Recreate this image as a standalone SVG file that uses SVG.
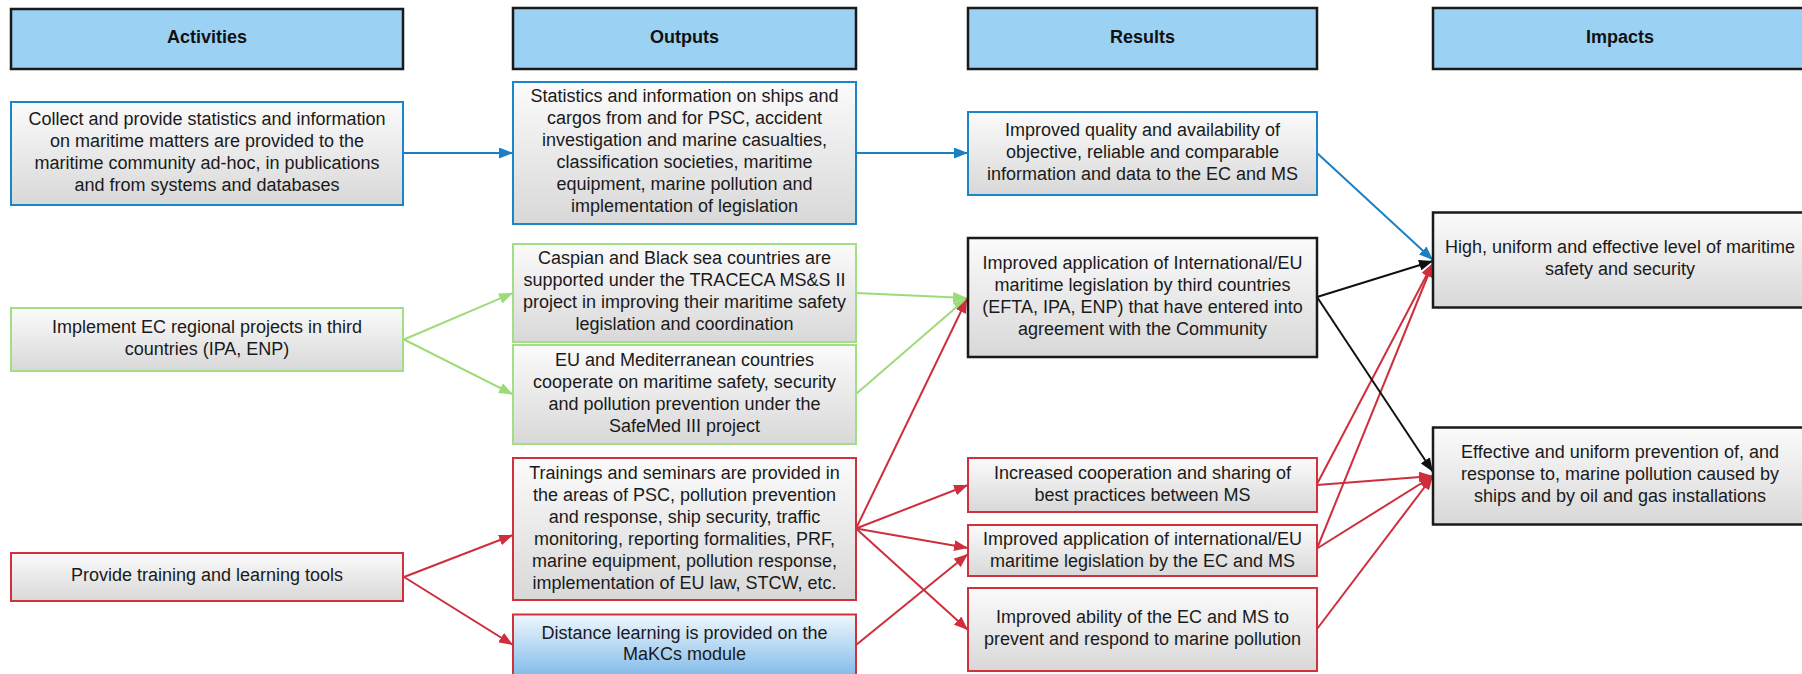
<svg xmlns="http://www.w3.org/2000/svg" width="1802" height="674" viewBox="0 0 1802 674">
<defs>
<linearGradient id="gray" x1="0" y1="0" x2="0" y2="1">
<stop offset="0" stop-color="#fbfbfb"/>
<stop offset="1" stop-color="#d8d8d8"/>
</linearGradient>
<linearGradient id="bluefill" x1="0" y1="0" x2="0" y2="1">
<stop offset="0" stop-color="#f0f7fd"/>
<stop offset="1" stop-color="#6aaee5"/>
</linearGradient>
<marker id="ab" viewBox="0 0 14 11" refX="14" refY="5.5" markerWidth="14" markerHeight="11" markerUnits="userSpaceOnUse" orient="auto"><path d="M0,0 L14,5.5 L0,11 z" fill="#1b7fc3"/></marker>
<marker id="ag" viewBox="0 0 14 11" refX="14" refY="5.5" markerWidth="14" markerHeight="11" markerUnits="userSpaceOnUse" orient="auto"><path d="M0,0 L14,5.5 L0,11 z" fill="#9ddb78"/></marker>
<marker id="ar" viewBox="0 0 14 11" refX="14" refY="5.5" markerWidth="14" markerHeight="11" markerUnits="userSpaceOnUse" orient="auto"><path d="M0,0 L14,5.5 L0,11 z" fill="#cf2e3c"/></marker>
<marker id="ak" viewBox="0 0 14 11" refX="14" refY="5.5" markerWidth="14" markerHeight="11" markerUnits="userSpaceOnUse" orient="auto"><path d="M0,0 L14,5.5 L0,11 z" fill="#111111"/></marker>
</defs>
<style>
.hdr{fill:#9bd2f3;stroke:#1a1a1a;stroke-width:2.5}
.hdt{font-family:"Liberation Sans",Arial,sans-serif;font-size:18px;font-weight:bold;fill:#111;text-anchor:middle}
.t{font-family:"Liberation Sans",Arial,sans-serif;font-size:18px;fill:#1a1a1a;text-anchor:middle}
.nb{fill:url(#gray);stroke:#1b85c9;stroke-width:2}
.ng{fill:url(#gray);stroke:#a3dd86;stroke-width:2}
.nr{fill:url(#gray);stroke:#d0313d;stroke-width:2}
.nk{fill:url(#gray);stroke:#1a1a1a;stroke-width:2.5}
.cb{stroke:#1b7fc3;stroke-width:2;fill:none;marker-end:url(#ab)}
.cg{stroke:#9ddb78;stroke-width:2;fill:none;marker-end:url(#ag)}
.cr{stroke:#cf2e3c;stroke-width:2;fill:none;marker-end:url(#ar)}
.ck{stroke:#111111;stroke-width:2;fill:none;marker-end:url(#ak)}
</style>
<rect width="1802" height="674" fill="#ffffff"/>

<g id="hdr-activities"><rect class="hdr" x="11" y="9" width="392" height="60"/><text class="hdt" x="207" y="43">Activities</text></g>
<g id="hdr-outputs"><rect class="hdr" x="513" y="8" width="343" height="61"/><text class="hdt" x="684.5" y="43">Outputs</text></g>
<g id="hdr-results"><rect class="hdr" x="968" y="8" width="349" height="61"/><text class="hdt" x="1142.5" y="43">Results</text></g>
<g id="hdr-impacts"><rect class="hdr" x="1433" y="8" width="374" height="61"/><text class="hdt" x="1620" y="43">Impacts</text></g>

<g id="connectors">
<line class="cb" x1="404" y1="153" x2="513" y2="153"/>
<line class="cb" x1="856" y1="153" x2="968" y2="153"/>
<line class="cb" x1="1317" y1="153" x2="1433" y2="260"/>
<line class="cg" x1="404" y1="339.5" x2="513" y2="293"/>
<line class="cg" x1="404" y1="339.5" x2="513" y2="394.5"/>
<line class="cg" x1="856" y1="293" x2="967" y2="298"/>
<line class="cg" x1="856" y1="394" x2="967" y2="298"/>
<line class="cr" x1="404" y1="577" x2="513" y2="535"/>
<line class="cr" x1="404" y1="577" x2="513" y2="645"/>
<line class="cr" x1="856" y1="528.5" x2="967" y2="299"/>
<line class="cr" x1="856" y1="528.5" x2="968" y2="485"/>
<line class="cr" x1="856" y1="528.5" x2="968" y2="548"/>
<line class="cr" x1="856" y1="528.5" x2="968" y2="630"/>
<line class="cr" x1="856" y1="645" x2="968" y2="554"/>
<line class="cr" x1="1317" y1="484" x2="1433" y2="263"/>
<line class="cr" x1="1317" y1="548.5" x2="1433" y2="263"/>
<line class="cr" x1="1317" y1="485" x2="1433" y2="476"/>
<line class="cr" x1="1317" y1="548.5" x2="1433" y2="476"/>
<line class="cr" x1="1317" y1="629" x2="1433" y2="476"/>
<line class="ck" x1="1317" y1="297" x2="1433" y2="261"/>
<line class="ck" x1="1317" y1="297" x2="1433" y2="472"/>
</g>

<g id="a1"><rect class="nb" x="11" y="102" width="392" height="103"/>
<text class="t" x="207" y="124.5">Collect and provide statistics and information</text>
<text class="t" x="207" y="146.5">on maritime matters are provided to the</text>
<text class="t" x="207" y="168.5">maritime community ad-hoc, in publications</text>
<text class="t" x="207" y="190.5">and from systems and databases</text></g>

<g id="a2"><rect class="ng" x="11" y="308" width="392" height="63"/>
<text class="t" x="207" y="332.5">Implement EC regional projects in third</text>
<text class="t" x="207" y="354.5">countries (IPA, ENP)</text></g>

<g id="a3"><rect class="nr" x="11" y="553" width="392" height="48"/>
<text class="t" x="207" y="581">Provide training and learning tools</text></g>

<g id="o1"><rect class="nb" x="513" y="82" width="343" height="142"/>
<text class="t" x="684.5" y="102">Statistics and information on ships and</text>
<text class="t" x="684.5" y="124">cargos from and for PSC, accident</text>
<text class="t" x="684.5" y="146">investigation and marine casualties,</text>
<text class="t" x="684.5" y="168">classification societies, maritime</text>
<text class="t" x="684.5" y="190">equipment, marine pollution and</text>
<text class="t" x="684.5" y="212">implementation of legislation</text></g>

<g id="o2"><rect class="ng" x="513" y="244" width="343" height="98"/>
<text class="t" x="684.5" y="264">Caspian and Black sea countries are</text>
<text class="t" x="684.5" y="286">supported under the TRACECA MS&amp;S II</text>
<text class="t" x="684.5" y="308">project in improving their maritime safety</text>
<text class="t" x="684.5" y="330">legislation and coordination</text></g>

<g id="o3"><rect class="ng" x="513" y="345" width="343" height="99"/>
<text class="t" x="684.5" y="365.5">EU and Mediterranean countries</text>
<text class="t" x="684.5" y="387.5">cooperate on maritime safety, security</text>
<text class="t" x="684.5" y="409.5">and pollution prevention under the</text>
<text class="t" x="684.5" y="431.5">SafeMed III project</text></g>

<g id="o4"><rect class="nr" x="513" y="458" width="343" height="142"/>
<text class="t" x="684.5" y="478.5">Trainings and seminars are provided in</text>
<text class="t" x="684.5" y="500.5">the areas of PSC, pollution prevention</text>
<text class="t" x="684.5" y="522.5">and response, ship security, traffic</text>
<text class="t" x="684.5" y="544.5">monitoring, reporting formalities, PRF,</text>
<text class="t" x="684.5" y="566.5">marine equipment, pollution response,</text>
<text class="t" x="684.5" y="588.5">implementation of EU law, STCW, etc.</text></g>

<g id="o5"><rect x="513" y="614.5" width="343" height="75" fill="url(#bluefill)" stroke="#d0313d" stroke-width="2"/>
<text class="t" x="684.5" y="638.5">Distance learning is provided on the</text>
<text class="t" x="684.5" y="660">MaKCs module</text></g>

<g id="r1"><rect class="nb" x="968" y="112" width="349" height="83"/>
<text class="t" x="1142.5" y="136">Improved quality and availability of</text>
<text class="t" x="1142.5" y="158">objective, reliable and comparable</text>
<text class="t" x="1142.5" y="180">information and data to the EC and MS</text></g>

<g id="r2"><rect class="nk" x="968" y="238" width="349" height="119"/>
<text class="t" x="1142.5" y="269">Improved application of International/EU</text>
<text class="t" x="1142.5" y="291">maritime legislation by third countries</text>
<text class="t" x="1142.5" y="313">(EFTA, IPA, ENP) that have entered into</text>
<text class="t" x="1142.5" y="335">agreement with the Community</text></g>

<g id="r3"><rect class="nr" x="968" y="458" width="349" height="54"/>
<text class="t" x="1142.5" y="478.5">Increased cooperation and sharing of</text>
<text class="t" x="1142.5" y="500.5">best practices between MS</text></g>

<g id="r4"><rect class="nr" x="968" y="525" width="349" height="51"/>
<text class="t" x="1142.5" y="545">Improved application of international/EU</text>
<text class="t" x="1142.5" y="567">maritime legislation by the EC and MS</text></g>

<g id="r5"><rect class="nr" x="968" y="588" width="349" height="83"/>
<text class="t" x="1142.5" y="622.5">Improved ability of the EC and MS to</text>
<text class="t" x="1142.5" y="644.5">prevent and respond to marine pollution</text></g>

<g id="i1"><rect class="nk" x="1433" y="212.5" width="374" height="95"/>
<text class="t" x="1620" y="252.5">High, uniform and effective level of maritime</text>
<text class="t" x="1620" y="274.5">safety and security</text></g>

<g id="i2"><rect class="nk" x="1433" y="427.5" width="374" height="97"/>
<text class="t" x="1620" y="457.5">Effective and uniform prevention of, and</text>
<text class="t" x="1620" y="479.5">response to, marine pollution caused by</text>
<text class="t" x="1620" y="501.5">ships and by oil and gas installations</text></g>
</svg>
